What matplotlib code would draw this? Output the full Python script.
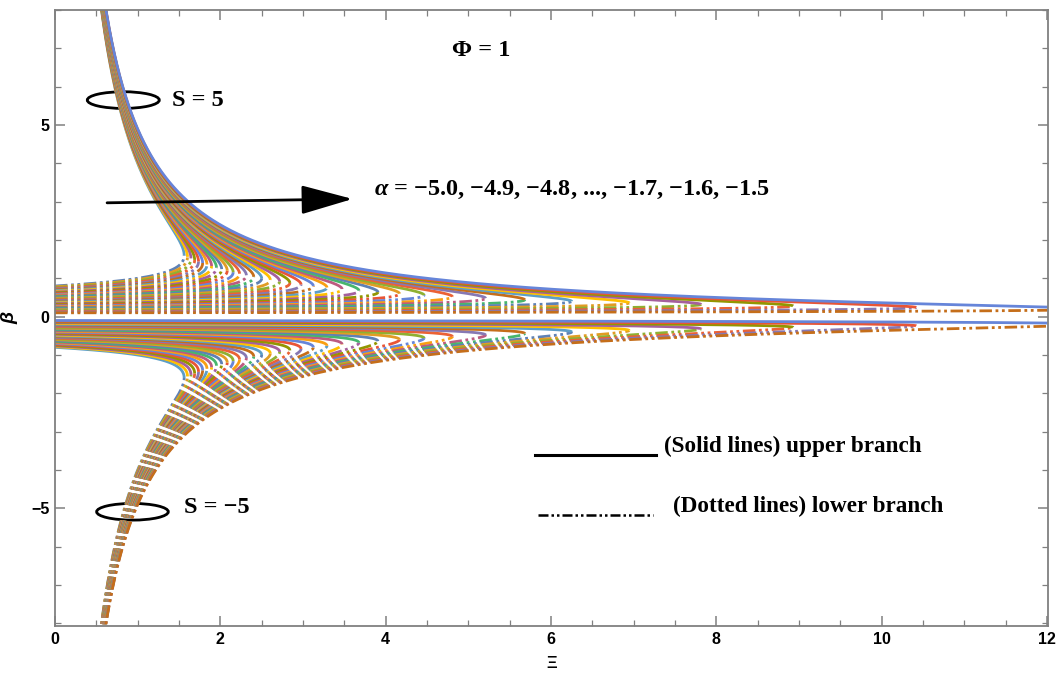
import numpy as np
import matplotlib.pyplot as plt
from matplotlib.patches import Ellipse

# parameters shown on the chart
alpha_values = [-5.0, -4.9, -4.8, -4.7, -4.6, -4.5, -4.4, -4.3, -4.2, -4.1,
                -4.0, -3.9, -3.8, -3.7, -3.6, -3.5, -3.4, -3.3, -3.2, -3.1,
                -3.0, -2.9, -2.8, -2.7, -2.6, -2.5, -2.4, -2.3, -2.2, -2.1,
                -2.0, -1.9, -1.8, -1.7, -1.6, -1.5]
s_values = [5, -5]
phi = 1.0

# Mathematica default colour cycle
palette = ['#5E81B5', '#E19C24', '#8FB032', '#EB6235', '#8778B3',
           '#C56E1A', '#5D9EC7', '#FFBF00', '#A5609D', '#929600',
           '#E95536', '#6685D9', '#F89F13', '#BC5B80', '#47B66D']

plt.rcParams['font.family'] = 'Liberation Sans'
plt.rcParams['font.weight'] = 'bold'
plt.rcParams['mathtext.fontset'] = 'custom'
plt.rcParams['mathtext.it'] = 'Liberation Serif:italic:bold'
plt.rcParams['mathtext.rm'] = 'Liberation Serif:bold'

fig = plt.figure(figsize=(10.63, 6.74), dpi=100)
ax = fig.add_axes([55 / 1063, 48 / 674, 992.5 / 1063, 616 / 674])

dotdash = (0, (4.5, 1.3, 1.0, 1.3, 1.0, 1.3))
n = 3000
for s in s_values:
    upper, lower = [], []
    for a in alpha_values:
        k = -(a + phi)
        b0 = k / s          # branch end at Xi = 0
        bc = 2 * k / s      # turning point
        if s > 0:
            b_up = np.linspace(8.6, bc, n)
            b_lo = np.linspace(b0, bc, n)
        else:
            b_up = np.linspace(b0, bc, n)
            b_lo = np.linspace(-8.6, bc, n)
        upper.append(((s * b_up - k) / b_up ** 2, b_up))
        lower.append(((s * b_lo - k) / b_lo ** 2, b_lo))
    m = len(alpha_values)
    for i, (x, y) in enumerate(lower):
        ax.plot(x, y, color=palette[i % 15], lw=2.0, linestyle=dotdash,
                dash_capstyle='butt')
    for i, (x, y) in enumerate(upper):
        ax.plot(x, y, color=palette[(i + m) % 15], lw=2.0,
                solid_capstyle='butt')

ax.set_xlim(0, 12.005)
ax.set_ylim(-8.07, 7.97)

# annotations
serif = dict(family='Liberation Serif', fontweight='bold', fontsize=17.5)
ax.text(4.80, 6.95, 'Φ = 1', ha='left', va='center', **serif)
ax.add_patch(Ellipse((0.826, 5.65), 0.871, 0.435, fill=False, lw=2, ec='black'))
ax.text(1.41, 5.65, 'S = 5', ha='left', va='center', **serif)
ax.add_patch(Ellipse((0.937, -5.09), 0.867, 0.435, fill=False, lw=2, ec='black'))
ax.text(1.565, -4.99, 'S = −5', ha='left', va='center', **serif)

ax.annotate('', xy=(3.6, 3.07), xytext=(0.63, 2.97),
            arrowprops=dict(arrowstyle='-|>,head_length=1.6,head_width=0.45',
                            mutation_scale=20, lw=2, color='black',
                            shrinkA=0, shrinkB=0))
ax.text(3.86, 3.31, r'$\alpha$ = −5.0, −4.9, −4.8, ..., −1.7, −1.6, −1.5',
        ha='left', va='center', **serif)

# legend drawn by hand
legend_font = dict(serif, fontsize=16.7)
ax.plot([5.81, 7.27], [-3.62, -3.62], color='black', lw=2.2)
ax.text(7.37, -3.39, '(Solid lines) upper branch', ha='left', va='center',
        **legend_font)
ax.plot([5.84, 7.23], [-5.18, -5.18], color='black', lw=1.8,
        linestyle=(0, (4.0, 1.2, 1.0, 1.2, 1.0, 1.2)))
ax.text(7.48, -4.95, '(Dotted lines) lower branch', ha='left', va='center',
        **legend_font)

# frame and ticks
ax.set_xticks(range(0, 13, 2))
ax.set_xticks(np.arange(0, 12.01, 0.5), minor=True)
ax.set_yticks([-5, 0, 5])
ax.set_yticks(range(-8, 9), minor=True)
ax.tick_params(which='both', direction='in', top=True, right=True,
               color='#808080', labelsize=11.5)
ax.tick_params(which='major', length=7, width=1.1, pad=4)
ax.tick_params(which='minor', length=4, width=0.9)
for sp in ax.spines.values():
    sp.set_color('#808080')
    sp.set_linewidth(1.3)

ax.set_xlabel('Ξ', fontsize=12, fontweight='bold', labelpad=7)
ax.set_ylabel('β', fontsize=14, style='italic', fontweight='bold', labelpad=9)

fig.savefig('out.png', dpi=100)
